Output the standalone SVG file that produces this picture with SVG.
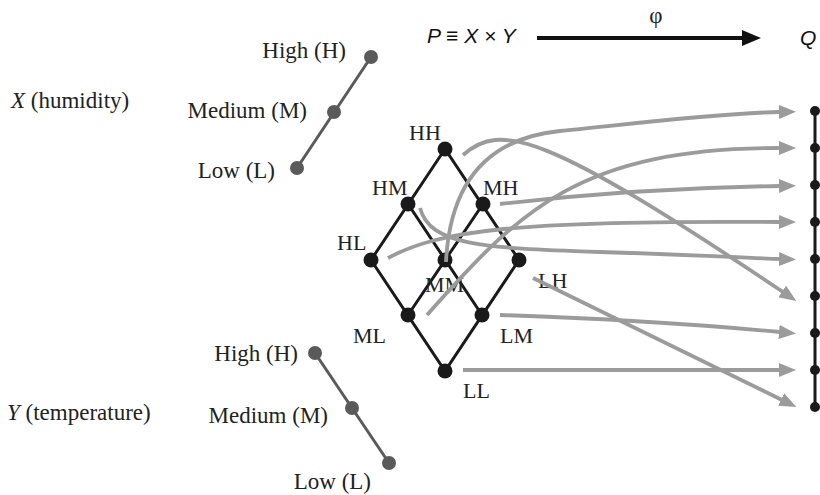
<svg xmlns="http://www.w3.org/2000/svg" width="820" height="495" viewBox="0 0 820 495">
<style>
.t{font-family:"Liberation Serif","Times New Roman",serif;font-size:23px;fill:#222}
.l{font-size:22px}
.ts{font-family:"Liberation Sans",Arial,sans-serif;font-size:21px;font-style:italic;fill:#111}
.scale{stroke:#5a5a5a;stroke-width:3;fill:none}
.sdot{fill:#5a5a5a}
.lat{stroke:#1a1a1a;stroke-width:3;fill:none}
.ldot{fill:#1a1a1a}
.arr{stroke:#9b9b9b;stroke-width:3.8;fill:none;marker-end:url(#ah)}
</style>
<defs>
<marker id="ah" markerWidth="17" markerHeight="14" refX="1" refY="7" orient="auto" markerUnits="userSpaceOnUse">
<path d="M0,0 L17,7 L0,14 z" fill="#9b9b9b"/>
</marker>
<marker id="bh" markerWidth="19" markerHeight="16" refX="1" refY="8" orient="auto" markerUnits="userSpaceOnUse">
<path d="M0,0 L19,8 L0,16 z" fill="#111"/>
</marker>
</defs>

<g id="title">
<text class="ts" x="427" y="43">P ≡ X × Y</text>
<line x1="537" y1="38" x2="743" y2="38" stroke="#111" stroke-width="4" marker-end="url(#bh)"/>
<text class="t" x="656" y="23" text-anchor="middle" font-size="20">φ</text>
<text class="ts" x="800" y="45" font-size="22">Q</text>
</g>

<g id="X-scale">
<text class="t" x="11" y="108"><tspan font-style="italic">X</tspan> (humidity)</text>
<line class="scale" x1="371" y1="57" x2="297" y2="168"/>
<circle class="sdot" cx="371" cy="57" r="7"/>
<circle class="sdot" cx="334" cy="112" r="7"/>
<circle class="sdot" cx="297" cy="168" r="7"/>
<text class="t" x="346" y="58" text-anchor="end">High (H)</text>
<text class="t" x="307" y="118" text-anchor="end">Medium (M)</text>
<text class="t" x="275" y="178" text-anchor="end">Low (L)</text>
</g>

<g id="Y-scale">
<text class="t" x="7" y="420"><tspan font-style="italic">Y</tspan> (temperature)</text>
<line class="scale" x1="315" y1="353" x2="389" y2="463"/>
<circle class="sdot" cx="315" cy="353" r="7"/>
<circle class="sdot" cx="352" cy="408" r="7"/>
<circle class="sdot" cx="389" cy="463" r="7"/>
<text class="t" x="298" y="361" text-anchor="end">High (H)</text>
<text class="t" x="328" y="423" text-anchor="end">Medium (M)</text>
<text class="t" x="371" y="489" text-anchor="end">Low (L)</text>
</g>

<g id="lattice-edges">
<path class="lat" d="M445,149 L371,260 L445,371 L519,260 Z"/>
<path class="lat" d="M408,204 L482,315 M483,204 L408,315"/>
</g>

<g id="HH"><circle class="ldot" cx="445" cy="149" r="7.5"/><text class="t l" x="409" y="140">HH</text></g>
<g id="HM"><circle class="ldot" cx="408" cy="204" r="7.5"/><text class="t l" x="372" y="195">HM</text></g>
<g id="MH"><circle class="ldot" cx="483" cy="204" r="7.5"/><text class="t l" x="483" y="195">MH</text></g>
<g id="HL"><circle class="ldot" cx="371" cy="260" r="7.5"/><text class="t l" x="337" y="250">HL</text></g>
<g id="MM"><circle class="ldot" cx="445" cy="260" r="7.5"/><text class="t l" x="425" y="292">MM</text></g>
<g id="LH"><circle class="ldot" cx="519" cy="260" r="7.5"/><text class="t l" x="538" y="288">LH</text></g>
<g id="ML"><circle class="ldot" cx="408" cy="315" r="7.5"/><text class="t l" x="353" y="343">ML</text></g>
<g id="LM"><circle class="ldot" cx="482" cy="315" r="7.5"/><text class="t l" x="500" y="343">LM</text></g>
<g id="LL"><circle class="ldot" cx="445" cy="371" r="7.5"/><text class="t l" x="463" y="398">LL</text></g>

<g id="Q">
<line x1="815" y1="111" x2="815" y2="407" stroke="#1a1a1a" stroke-width="3"/>
<circle class="ldot" cx="815" cy="111" r="5"/>
<circle class="ldot" cx="815" cy="148" r="5"/>
<circle class="ldot" cx="815" cy="185" r="5"/>
<circle class="ldot" cx="815" cy="222" r="5"/>
<circle class="ldot" cx="815" cy="259" r="5"/>
<circle class="ldot" cx="815" cy="296" r="5"/>
<circle class="ldot" cx="815" cy="333" r="5"/>
<circle class="ldot" cx="815" cy="370" r="5"/>
<circle class="ldot" cx="815" cy="407" r="5"/>
</g>

<g id="connectors">
<path class="arr" d="M463,155 C500,122 545,132 783,292"/>
<path class="arr" d="M446,262 C450,180 490,138 560,131 S720,113 780,112"/>
<path class="arr" d="M427,315 C520,210 580,148 780,148"/>
<path class="arr" d="M500,204 Q640,188 780,186"/>
<path class="arr" d="M388,258 C440,230 520,220 780,222"/>
<path class="arr" d="M420,208 C430,245 480,248 600,252 S750,258 780,259"/>
<path class="arr" d="M533,278 L782,400"/>
<path class="arr" d="M500,315 Q650,320 780,332"/>
<path class="arr" d="M463,370 L780,370"/>
</g>
</svg>
